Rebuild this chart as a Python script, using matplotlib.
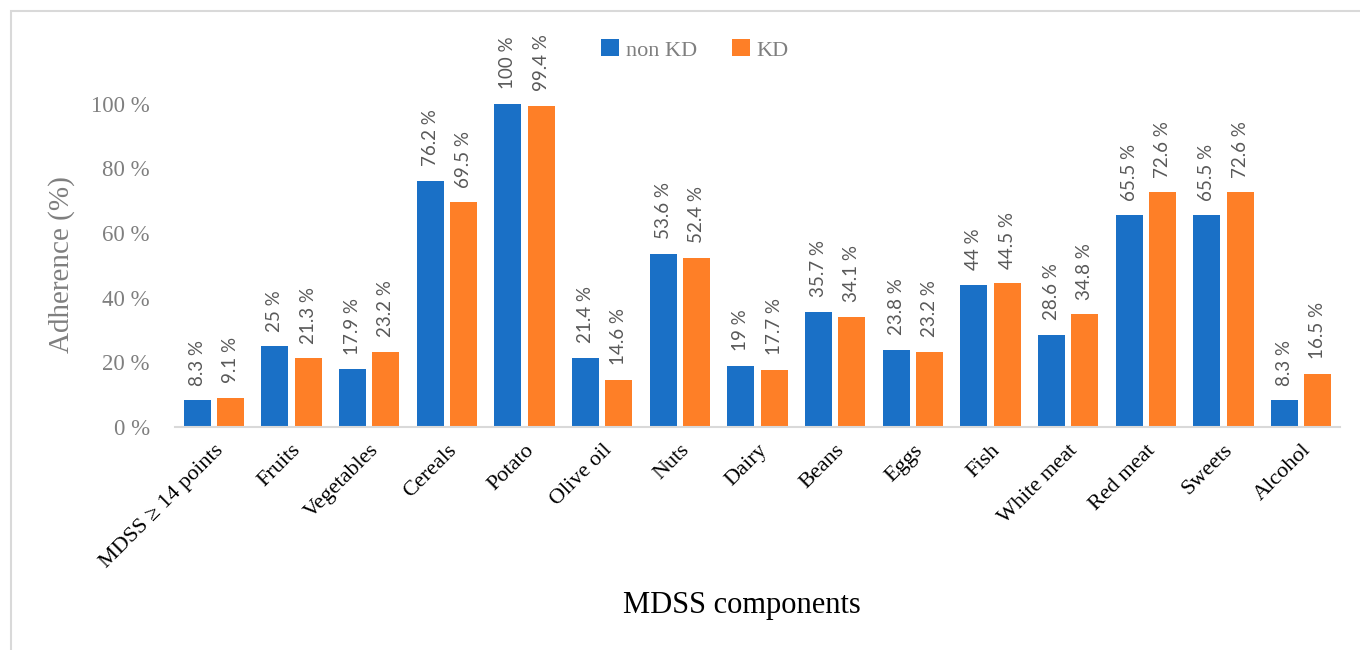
import numpy as np
import matplotlib.pyplot as plt
from matplotlib.patches import Rectangle

categories = ["MDSS ≥ 14 points", "Fruits", "Vegetables", "Cereals", "Potato",
              "Olive oil", "Nuts", "Dairy", "Beans", "Eggs", "Fish",
              "White meat", "Red meat", "Sweets", "Alcohol"]
non_kd = [8.3, 25, 17.9, 76.2, 100, 21.4, 53.6, 19, 35.7, 23.8, 44, 28.6, 65.5, 65.5, 8.3]
kd = [9.1, 21.3, 23.2, 69.5, 99.4, 14.6, 52.4, 17.7, 34.1, 23.2, 44.5, 34.8, 72.6, 72.6, 16.5]
yticks = [0, 20, 40, 60, 80, 100]

serif = ["Liberation Serif", "DejaVu Serif"]
sans = ["Lato", "DejaVu Sans"]
blue = "#1a70c6"
orange = "#fe7f27"
gray = "#7f7f7f"

fig = plt.figure(figsize=(13.6, 6.5), dpi=100)
ax = fig.add_axes([175/1360, 1 - 427/650, (1340 - 175)/1360, (427 - 39)/650])

x = np.arange(len(categories))
w = 0.347
off = 0.216
b1 = ax.bar(x - off, non_kd, w, color=blue, label="non KD")
b2 = ax.bar(x + off, kd, w, color=orange, label="KD")

def fmt(v):
    return ("%g" % v) + " %"

for bars, vals in ((b1, non_kd), (b2, kd)):
    for r, v in zip(bars, vals):
        ax.annotate(fmt(v), (r.get_x() + r.get_width()/2, v), xytext=(0, 10.5),
                    textcoords="offset points", rotation=90, ha="center", va="bottom",
                    fontsize=13.5, color="#595959", family=sans)

ax.set_xlim(-0.5, len(categories) - 0.5)
ax.set_ylim(0, 120)
ax.set_yticks(yticks)
ax.set_yticklabels([f"{t} %" for t in yticks], family=serif, fontsize=16.5, color=gray)
ax.set_xticks(x)
ax.set_xticklabels(categories, rotation=45, ha="right", va="top", rotation_mode="anchor",
                   family=serif, fontsize=16, color="black")
ax.tick_params(axis="both", length=0)
ax.tick_params(axis="y", pad=18)
ax.tick_params(axis="x", pad=10)
for s in ("top", "right", "left"):
    ax.spines[s].set_visible(False)
ax.spines["bottom"].set_color("#d9d9d9")
ax.spines["bottom"].set_linewidth(1.5)

fig.text(62/1360, 1 - 265/650, "Adherence (%)", rotation=90, ha="center", va="center",
         family=serif, fontsize=21, color=gray)
fig.text(742/1360, 1 - 606/650, "MDSS components", ha="center", va="center",
         family=serif, fontsize=22, color="black")

leg = fig.legend(handles=[b1, b2], loc="center", bbox_to_anchor=(695/1360, 1 - 50/650),
                 ncol=2, frameon=False, prop={"family": serif, "size": 16},
                 handlelength=0.8, handleheight=0.8, handletextpad=0.3, columnspacing=1.6)
for t in leg.get_texts():
    t.set_color(gray)

fig.patches.append(Rectangle((10.5/1360, -0.1), 1.2, 1 - 10.5/650 + 0.1, transform=fig.transFigure,
                             fill=False, edgecolor="#d9d9d9", linewidth=1.5))

fig.savefig("out.png", dpi=100)
